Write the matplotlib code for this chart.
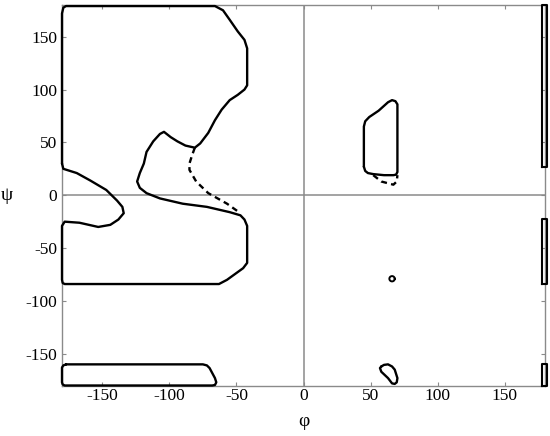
import numpy as np
import matplotlib
matplotlib.use("Agg")
import matplotlib.pyplot as plt

plt.rcParams['font.family'] = ['Liberation Serif', 'DejaVu Serif']
plt.rcParams['axes.unicode_minus'] = False

# ---- data (phi, psi) ----
region_a_phi = [-180, -180, -179, -177, -66, -60, -55, -49, -44, -42, -42, -44, -49, -55, -61, -66, -71, -77, -81,
                -88, -94, -99, -104, -107, -112, -117, -119, -122, -124, -122, -117, -107, -90, -72, -55,
                -47, -44, -42, -42, -45, -57, -63, -178, -179.5, -180, -180, -178, -167, -153, -144, -138, -134,
                -135, -139, -147, -159, -169, -179]
region_a_psi = [30, 172, 177.5, 179, 179, 175, 166, 155, 147, 139, 104, 100, 95, 90, 81, 71, 59, 49, 45,
                47, 51, 55, 60, 58, 51, 41, 30, 21, 13, 7, 2, -3, -8, -11, -16,
                -19, -23, -29, -64, -69, -80, -84, -84, -83, -80, -29, -25, -26, -30, -28, -23, -17,
                -11, -5, 5, 14, 21, 25]

dash_a_phi = [-81, -83, -85, -85, -80, -71, -57, -47]
dash_a_psi = [45, 38, 30, 24, 13, 2, -8, -17]

region_b_phi = [45, 45, 46, 49, 56, 63, 66, 68.5, 70, 70, 69, 67, 60, 52, 48, 46]
region_b_psi = [27, 65, 70, 74, 80, 88, 90, 89, 86, 22, 19.5, 19, 19, 20, 21, 23]

dash_b_phi = [52, 58, 67, 69.5, 70]
dash_b_psi = [19, 13, 10, 13, 19]

region_c_phi = [-177, -75, -72, -70, -66, -65, -66, -68, -178, -179.5, -180, -180, -179]
region_c_psi = [-160, -160, -161, -163.5, -173, -177, -179.5, -180, -180, -179, -177, -163, -161]

loop_d_phi = [58, 60, 63, 66, 68, 70, 69.5, 68, 66, 63, 58, 57]
loop_d_psi = [-162, -160.5, -160, -162, -165, -173, -177, -178.5, -178, -173, -167, -163.5]

ring_center = (66, -79)

bar_psi_ranges = [(26.5, 180), (-84, -22), (-180, -160)]
bar_phi = (178, 181.3)

ticks = [-150, -100, -50, 0, 50, 100, 150]

# ---- figure ----
fig = plt.figure(figsize=(5.5, 4.36), dpi=100)
ax = fig.add_axes([62/550, 1-385.5/436, 483/550, 380.5/436])
ax.set_xlim(-180, 180)
ax.set_ylim(-180, 180)

grey = '#8a8a8a'
ax.axhline(0, color=grey, lw=1.1, zorder=1)
ax.axvline(0, color=grey, lw=1.1, zorder=1)

kw = dict(color='black', lw=1.7, solid_joinstyle='round', solid_capstyle='round', clip_on=False, zorder=3)

def closed(xs, ys):
    return list(xs) + [xs[0]], list(ys) + [ys[0]]

for xs, ys in [(region_a_phi, region_a_psi), (region_b_phi, region_b_psi),
               (region_c_phi, region_c_psi), (loop_d_phi, loop_d_psi)]:
    cx, cy = closed(xs, ys)
    ax.plot(cx, cy, **kw)

ax.plot(dash_a_phi, dash_a_psi, color='black', lw=1.7, ls=(0, (2.5, 1.8)), zorder=3)
ax.plot(dash_b_phi, dash_b_psi, color='black', lw=1.7, ls=(0, (2.5, 1.8)), zorder=3)

t = np.linspace(0, 2*np.pi, 40)
ax.plot(ring_center[0] + 2.0*np.cos(t), ring_center[1] + 2.5*np.sin(t), color='black', lw=1.4, zorder=3)

for lo, hi in bar_psi_ranges:
    bx = [bar_phi[0], bar_phi[1], bar_phi[1], bar_phi[0], bar_phi[0]]
    by = [lo, lo, hi, hi, lo]
    ax.plot(bx, by, color='black', lw=1.5, solid_joinstyle='round', clip_on=False, zorder=4)

for s in ax.spines.values():
    s.set_color(grey)
    s.set_linewidth(1.0)

ax.set_xticks(ticks)
ax.set_yticks(ticks)
ax.tick_params(direction='in', length=3, width=0.8, color=grey, top=True, right=True,
               labelsize=12.5, labelcolor='black')
ax.tick_params(axis='x', pad=1.5)
ax.tick_params(axis='y', pad=3.5)

ax.text(-0.115, 0.5, 'ψ', transform=ax.transAxes, fontsize=14, ha='center', va='center')
ax.text(0.5, -0.094, 'φ', transform=ax.transAxes, fontsize=14, ha='center', va='center')

fig.savefig('out.png', dpi=100)
